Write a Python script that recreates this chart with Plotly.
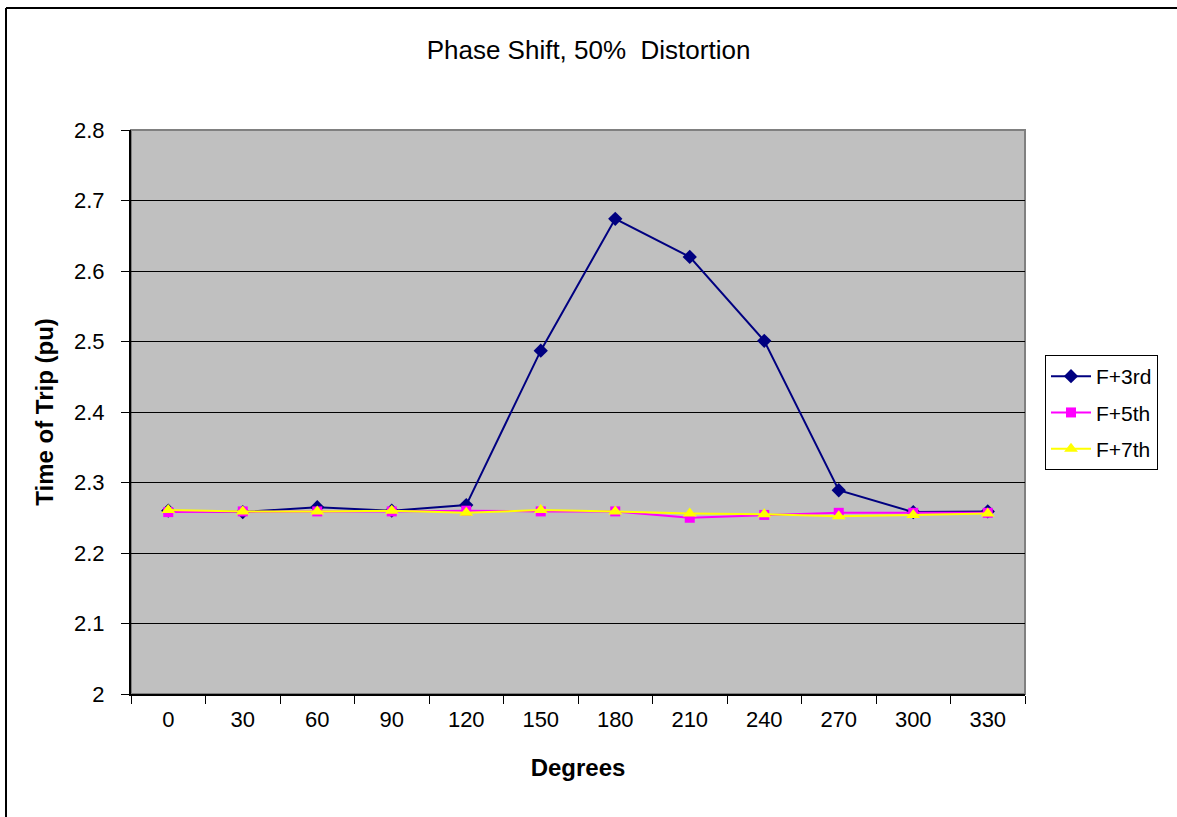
import plotly.graph_objects as go

degrees = ["0", "30", "60", "90", "120", "150", "180", "210", "240", "270", "300", "330"]
f3 = [2.260, 2.258, 2.265, 2.260, 2.268, 2.487, 2.674, 2.620, 2.501, 2.289, 2.258, 2.259]
f5 = [2.258, 2.259, 2.259, 2.259, 2.260, 2.259, 2.259, 2.250, 2.254, 2.257, 2.257, 2.257]
f7 = [2.261, 2.259, 2.259, 2.260, 2.257, 2.261, 2.259, 2.256, 2.255, 2.252, 2.254, 2.256]
ytick_vals = [2.0, 2.1, 2.2, 2.3, 2.4, 2.5, 2.6, 2.7, 2.8]
ytick_text = ["2", "2.1", "2.2", "2.3", "2.4", "2.5", "2.6", "2.7", "2.8"]

fig = go.Figure()
fig.add_trace(go.Scatter(x=degrees, y=f3, name="F+3rd", mode="lines+markers", legendgroup="g3",
                         line=dict(color="#000080", width=2),
                         marker=dict(symbol="diamond", size=11, color="#000080")))
fig.add_trace(go.Scatter(x=degrees, y=f5, name="F+5th", mode="lines+markers", legendgroup="g5",
                         line=dict(color="#FF00FF", width=2),
                         marker=dict(symbol="square", size=10, color="#FF00FF")))
fig.add_trace(go.Scatter(x=degrees, y=f7, name="F+7th", mode="lines+markers", legendgroup="g7",
                         line=dict(color="#FFFF00", width=2),
                         marker=dict(symbol="triangle-up", size=12, color="#FFFF00")))

W, H = 1177, 817
L, R, T, B = 131, 152, 130, 123
pw, ph = W - L - R, H - T - B

def px(x):
    return (x - L) / pw

def py(y):
    return (H - B - y) / ph

fig.update_layout(
    width=W, height=H,
    margin=dict(l=L, r=R, t=T, b=B),
    paper_bgcolor="white",
    plot_bgcolor="#C0C0C0",
    font=dict(family="Liberation Sans, Arial, sans-serif", color="black", size=22),
    title=dict(text="Phase Shift, 50%  Distortion", x=0.5, xanchor="center",
               y=1 - 50 / H, yanchor="middle", font=dict(size=26)),
    showlegend=True,
    legend=dict(x=px(1045), y=py(355), xanchor="left", yanchor="top",
                bordercolor="black", borderwidth=1, bgcolor="white",
                font=dict(size=21), tracegroupgap=6, itemwidth=40),
    xaxis=dict(type="category", range=[-0.5, 11.5], tickson="boundaries",
               ticks="outside", ticklen=8,
               tickcolor="black", showgrid=False, showline=True, linecolor="black",
               linewidth=2, mirror=False, tickfont=dict(size=22), ticklabelstandoff=5,
               title=dict(text="<b>Degrees</b>", font=dict(size=24), standoff=28)),
    yaxis=dict(range=[2, 2.8], tickvals=ytick_vals, ticktext=ytick_text,
               ticks="outside", ticklen=8,
               tickcolor="black", showgrid=True, gridcolor="black", gridwidth=1,
               showline=True, linecolor="black", linewidth=2, zeroline=False,
               tickfont=dict(size=22), ticklabelstandoff=12,
               title=dict(text="<b>Time of Trip (pu)</b>", font=dict(size=24), standoff=14)),
    shapes=[
        dict(type="rect", xref="paper", yref="paper", x0=0, x1=1, y0=0, y1=1,
             line=dict(color="#808080", width=2), layer="below"),
        dict(type="line", xref="paper", yref="paper", x0=px(6), x1=px(6), y0=py(8), y1=py(817),
             line=dict(color="black", width=2)),
        dict(type="line", xref="paper", yref="paper", x0=px(6), x1=px(1177), y0=py(8), y1=py(8),
             line=dict(color="black", width=2)),
    ],
)

fig.write_html("out.html")
